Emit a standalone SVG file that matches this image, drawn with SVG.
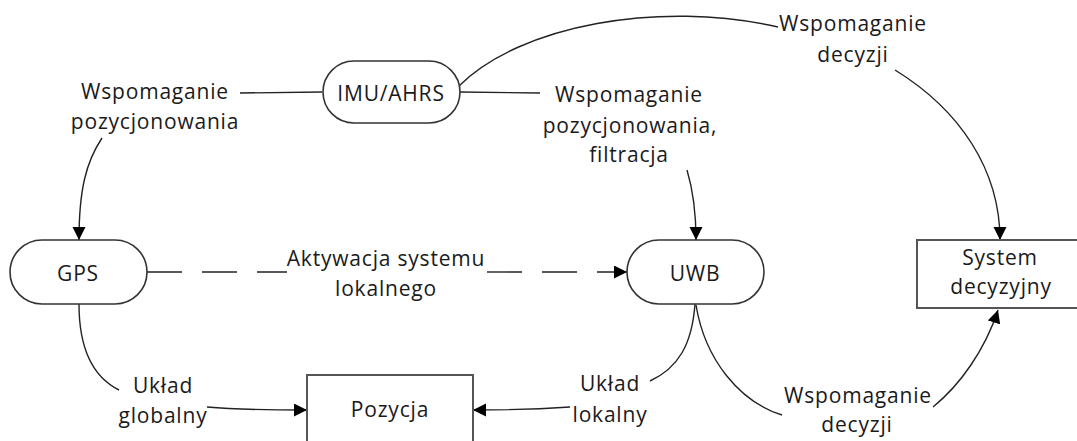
<svg xmlns="http://www.w3.org/2000/svg" width="1077" height="441" viewBox="0 0 1077 441">
  <defs>
    <marker id="arrow" markerUnits="userSpaceOnUse" markerWidth="14" markerHeight="14" refX="13" refY="6.5" orient="auto">
      <path d="M0,0 L13,6.5 L0,13 Z" fill="#000"/>
    </marker>
    <style>
      .node { fill: #fff; stroke: #333; stroke-width: 1.6; }
      .box { fill: #fff; stroke: #555; stroke-width: 2; }
      .conn { fill: none; stroke: #222; stroke-width: 1.4; }
      .dash { stroke-dasharray: 35 20; }
      text { font-family: "Open Sans", "Liberation Sans", sans-serif; font-size: 21px; letter-spacing: 0.8px; fill: #1a1a1a; text-anchor: middle; }
    </style>
  </defs>
  <rect width="1077" height="441" fill="#fff"/>

  <!-- connectors -->
  <g id="connectors">
    <path class="conn" d="M322,92 L240,93"/>
    <path class="conn" d="M102,138 C86,162 79,190 79,240" marker-end="url(#arrow)"/>
    <path class="conn" d="M460,92 L540,93"/>
    <path class="conn" d="M687,170 C693,190 696,210 696,240" marker-end="url(#arrow)"/>
    <path class="conn" d="M459,86 C520,25 660,0 778,27"/>
    <path class="conn" d="M895,70 C960,110 1000,170 1000,240" marker-end="url(#arrow)"/>
    <path class="conn dash" d="M147,272 L287,272"/>
    <path class="conn dash" d="M487,272 L627,272" marker-end="url(#arrow)"/>
    <path class="conn" d="M79,304 C79,352 95,378 119,390"/>
    <path class="conn" d="M207,407 C240,410 270,410 307,410" marker-end="url(#arrow)"/>
    <path class="conn" d="M695,304 C692,345 678,368 650,381"/>
    <path class="conn" d="M570,407 C540,409 510,410 473,410" marker-end="url(#arrow)"/>
    <path class="conn" d="M696,305 C705,360 740,402 782,415"/>
    <path class="conn" d="M933,407 C960,385 985,350 998,310" marker-end="url(#arrow)"/>
  </g>

  <!-- connector labels -->
  <g id="labels">
    <text x="155" y="99">Wspomaganie</text>
    <text x="155" y="129">pozycjonowania</text>
    <text x="629" y="102">Wspomaganie</text>
    <text x="630" y="133">pozycjonowania,</text>
    <text x="629" y="162">filtracja</text>
    <text x="853" y="31">Wspomaganie</text>
    <text x="853" y="62">decyzji</text>
    <text x="386" y="266">Aktywacja systemu</text>
    <text x="386" y="296">lokalnego</text>
    <text x="163" y="393">Układ</text>
    <text x="163" y="423">globalny</text>
    <text x="610" y="391">Układ</text>
    <text x="610" y="422">lokalny</text>
    <text x="858" y="403">Wspomaganie</text>
    <text x="857" y="432">decyzji</text>
  </g>

  <g id="imu">
    <rect class="node" x="323" y="61" width="137" height="62" rx="31"/>
    <text x="391" y="101">IMU/AHRS</text>
  </g>
  <g id="gps">
    <rect class="node" x="10" y="240" width="137" height="64" rx="32"/>
    <text x="78" y="281">GPS</text>
  </g>
  <g id="uwb">
    <rect class="node" x="627" y="240" width="137" height="64" rx="32"/>
    <text x="695" y="281">UWB</text>
  </g>
  <g id="system">
    <rect class="box" x="917" y="240" width="170" height="68"/>
    <text x="1000" y="265">System</text>
    <text x="1001" y="294">decyzyjny</text>
  </g>
  <g id="pozycja">
    <rect class="box" x="307" y="375" width="166" height="80"/>
    <text x="390" y="417">Pozycja</text>
  </g>
</svg>
